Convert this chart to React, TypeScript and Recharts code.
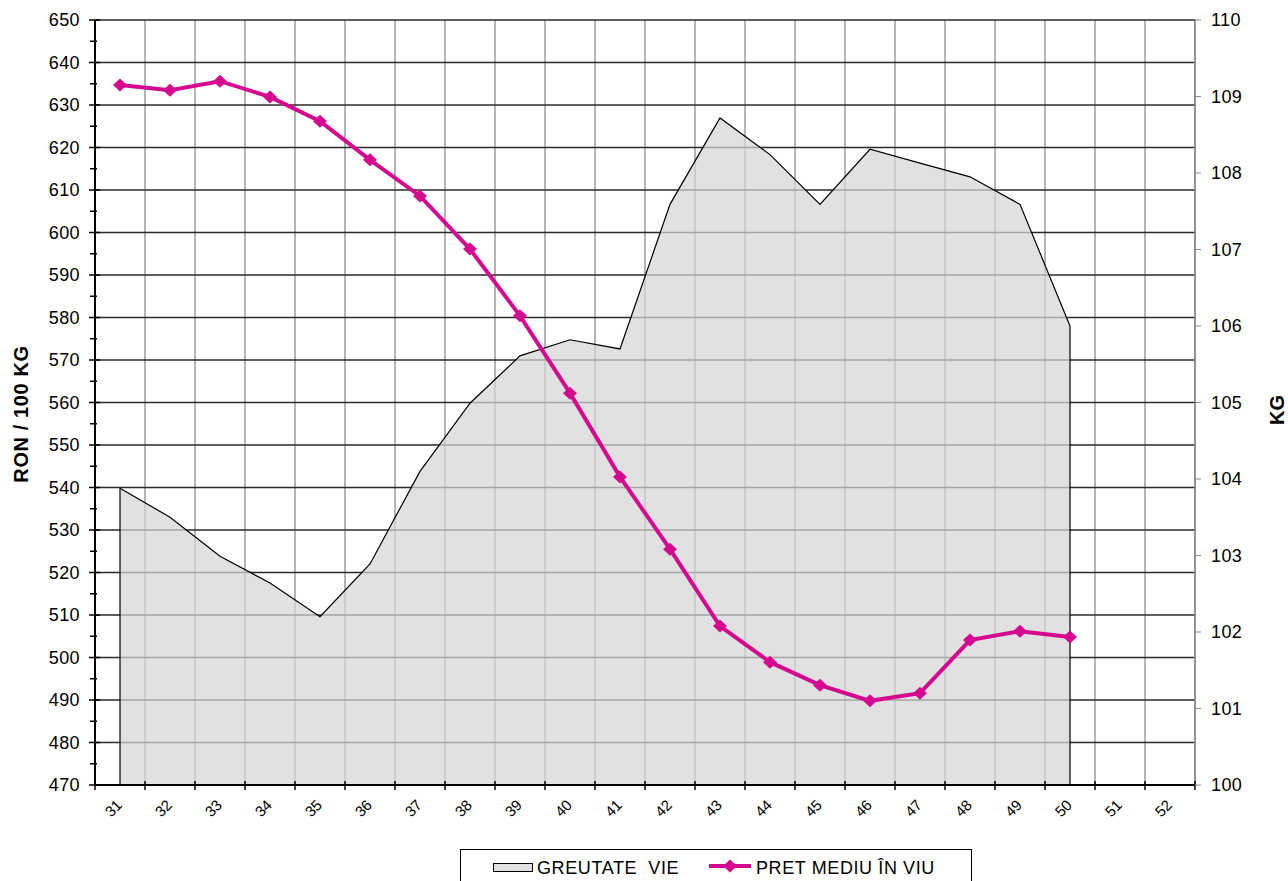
import React from 'react';
import {
  ComposedChart,
  Area,
  Line,
  XAxis,
  YAxis,
  CartesianGrid,
  ReferenceLine,
} from 'recharts';

// week numbers on the category axis
const weeks = [31, 32, 33, 34, 35, 36, 37, 38, 39, 40, 41, 42, 43, 44, 45, 46, 47, 48, 49, 50, 51, 52];

// live weight, kg (right axis)
const greutateVie = [
  103.88, 103.5, 102.99, 102.64, 102.2, 102.89, 104.1, 104.99, 105.61, 105.82, 105.7,
  107.59, 108.72, 108.24, 107.59, 108.31, 108.13, 107.95, 107.59, 106.0, null, null,
];

// average live price, RON / 100 kg (left axis)
const pretMediu = [
  634.7, 633.5, 635.6, 631.9, 626.2, 617.1, 608.6, 596.1, 580.4, 562.2, 542.5,
  525.5, 507.4, 498.9, 493.5, 489.8, 491.6, 504.1, 506.2, 504.8, null, null,
];

const leftTicks = [470, 480, 490, 500, 510, 520, 530, 540, 550, 560, 570, 580, 590, 600, 610, 620, 630, 640, 650];
const rightTicks = [100, 101, 102, 103, 104, 105, 106, 107, 108, 109, 110];

const data = weeks.map((w, i) => ({ week: w, kg: greutateVie[i], pret: pretMediu[i] }));
const edgeTicks = [...weeks.map((w) => w - 0.5), weeks[weeks.length - 1] + 0.5];

// first and last week with a weight value, for the closing edges of the area
const kgIdx = greutateVie.map((v, i) => (v == null ? -1 : i)).filter((i) => i >= 0);
const kgFirst = kgIdx[0];
const kgLast = kgIdx[kgIdx.length - 1];

const W = 1288;
const H = 881;
const PL = 95;
const PR = 1195;
const PT = 20;
const PB = 785;
const STEP = (PR - PL) / weeks.length;
const MINOR = (PB - PT) / (leftTicks.length - 1) / 2;
const MAGENTA = '#D5098F';
const FONT = '"Liberation Sans", Arial, sans-serif';

const LeftTick = ({ y, payload }: any) => (
  <g>
    <line x1={PL - 6} x2={PL + 5} y1={y} y2={y} stroke="#000" strokeWidth={1.5} />
    {payload.value > leftTicks[0] && (
      <line x1={PL - 5} x2={PL + 2} y1={y + MINOR} y2={y + MINOR} stroke="#000" strokeWidth={1.5} />
    )}
    <text x={PL - 15} y={y + 6} textAnchor="end" fontSize={18} letterSpacing={0.4} fontFamily={FONT} fill="#000">
      {payload.value}
    </text>
  </g>
);

const RightTick = ({ y, payload }: any) => (
  <g>
    <line x1={PR} x2={PR + 6} y1={y} y2={y} stroke="#888" />
    <text x={PR + 16} y={y + 6} textAnchor="start" fontSize={18} letterSpacing={0.4} fontFamily={FONT} fill="#000">
      {payload.value}
    </text>
  </g>
);

const BottomTick = ({ x, payload, index }: any) => (
  <g>
    <line x1={x - STEP / 2} x2={x - STEP / 2} y1={PB - 4} y2={PB + 5} stroke="#000" strokeWidth={1.5} />
    {index === weeks.length - 1 && (
      <line x1={x + STEP / 2} x2={x + STEP / 2} y1={PB - 4} y2={PB + 5} stroke="#000" strokeWidth={1.5} />
    )}
    <text
      x={x + 3}
      y={PB + 21}
      textAnchor="end"
      fontSize={15}
      fontFamily={FONT}
      fill="#000"
      transform={`rotate(-45 ${x + 3} ${PB + 21})`}
    >
      {payload.value}
    </text>
  </g>
);

const Diamond = ({ cx, cy }: any) => {
  if (cx == null || cy == null) return null;
  return (
    <polygon
      points={`${cx},${cy - 6.5} ${cx + 7},${cy} ${cx},${cy + 6.5} ${cx - 7},${cy}`}
      fill={MAGENTA}
    />
  );
};

export default function App() {
  return (
    <div style={{ position: 'absolute', left: 0, top: 0, width: W, height: H, overflow: 'hidden', background: '#fff', fontFamily: FONT }}>
      <ComposedChart width={W} height={H} data={data} margin={{ top: PT, right: 0, bottom: 0, left: 0 }}>
        <XAxis xAxisId="edge" dataKey="week" type="number" domain={[30.5, 52.5]} ticks={edgeTicks} hide />
        <CartesianGrid xAxisId="edge" yAxisId="left" horizontal={false} stroke="#9a9a9a" strokeWidth={1.5} />
        <CartesianGrid xAxisId="edge" yAxisId="left" vertical={false} stroke="#2a2a2a" strokeWidth={1.5} />
        <XAxis
          dataKey="week"
          type="number"
          domain={[30.5, 52.5]}
          ticks={weeks}
          height={H - PB}
          axisLine={{ stroke: '#000', strokeWidth: 2 }}
          tickLine={false}
          tick={<BottomTick />}
          interval={0}
        />
        <YAxis
          yAxisId="left"
          domain={[470, 650]}
          ticks={leftTicks}
          width={PL}
          axisLine={{ stroke: '#000', strokeWidth: 2 }}
          tickLine={false}
          tick={<LeftTick />}
          interval={0}
        />
        <YAxis
          yAxisId="right"
          orientation="right"
          domain={[100, 110]}
          ticks={rightTicks}
          width={W - PR}
          axisLine={{ stroke: '#888', strokeWidth: 1.5 }}
          tickLine={false}
          tick={<RightTick />}
          interval={0}
        />
        <Area
          yAxisId="right"
          dataKey="kg"
          type="linear"
          fill="#d6d6d6"
          fillOpacity={0.72}
          stroke="#000"
          strokeWidth={1.2}
          isAnimationActive={false}
        />
        <ReferenceLine
          yAxisId="right"
          segment={[
            { x: weeks[kgFirst], y: rightTicks[0] },
            { x: weeks[kgFirst], y: greutateVie[kgFirst] as number },
          ]}
          stroke="#000"
          strokeWidth={1.2}
          ifOverflow="visible"
        />
        <ReferenceLine
          yAxisId="right"
          segment={[
            { x: weeks[kgLast], y: rightTicks[0] },
            { x: weeks[kgLast], y: greutateVie[kgLast] as number },
          ]}
          stroke="#000"
          strokeWidth={1.2}
          ifOverflow="visible"
        />
        <Line
          yAxisId="left"
          dataKey="pret"
          type="linear"
          stroke={MAGENTA}
          strokeWidth={4}
          dot={<Diamond />}
          activeDot={false}
          isAnimationActive={false}
        />
      </ComposedChart>

      <div
        style={{
          position: 'absolute',
          left: 21,
          top: 414,
          transform: 'translate(-50%, -50%) rotate(-90deg)',
          fontWeight: 'bold',
          fontSize: 20,
          letterSpacing: 0.6,
          whiteSpace: 'nowrap',
        }}
      >
        RON / 100 KG
      </div>
      <div
        style={{
          position: 'absolute',
          left: 1277,
          top: 410,
          transform: 'translate(-50%, -50%) rotate(-90deg)',
          fontWeight: 'bold',
          fontSize: 20,
          whiteSpace: 'nowrap',
        }}
      >
        KG
      </div>

      <div
        style={{
          position: 'absolute',
          left: 460,
          top: 849,
          width: 512,
          height: 50,
          border: '1px solid #000',
          boxSizing: 'border-box',
          fontSize: 18,
          letterSpacing: 0.6,
        }}
      >
        <div style={{ position: 'absolute', left: 32, top: 13, width: 38, height: 7, background: '#e0e0e0', border: '1px solid #000' }} />
        <div style={{ position: 'absolute', left: 76, top: 8, whiteSpace: 'pre' }}>GREUTATE  VIE</div>
        <svg style={{ position: 'absolute', left: 248, top: 9 }} width={42} height={14}>
          <line x1={0} x2={42} y1={7} y2={7} stroke={MAGENTA} strokeWidth={4} />
          <polygon points="21,0.5 28,7 21,13.5 14,7" fill={MAGENTA} />
        </svg>
        <div style={{ position: 'absolute', left: 295, top: 8, whiteSpace: 'pre' }}>PRET MEDIU ÎN VIU</div>
      </div>
    </div>
  );
}
